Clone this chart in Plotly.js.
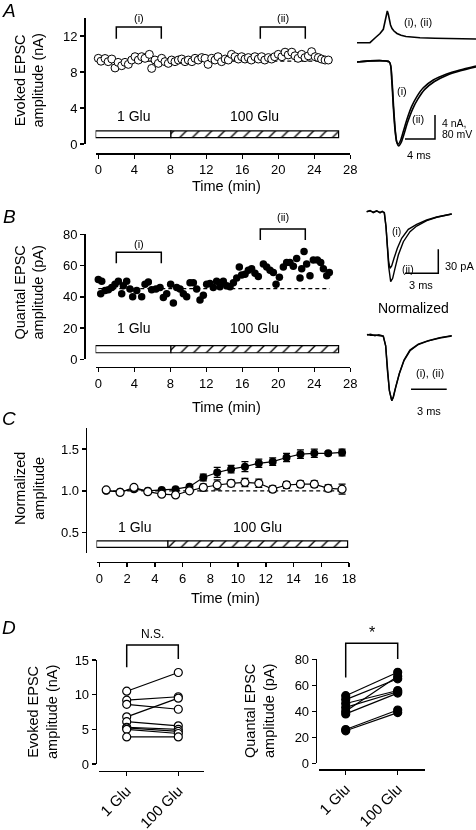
<!DOCTYPE html>
<html><head><meta charset="utf-8">
<script src="https://cdn.plot.ly/plotly-3.0.1.min.js"></script>
<style>html,body{margin:0;padding:0;background:#fff;}#chart{width:476px;height:830px;}#chart svg{will-change:transform;}</style>
</head><body><div id="chart"></div>
<script>
// ===================== DATA =====================
// Panel A: evoked EPSC amplitude (nA) vs time (min)
const evokedTime = [0.0,0.3,0.75,1.1,1.5,1.86,2.2,2.6,2.97,3.34,3.71,4.08,4.45,4.82,5.19,5.67,5.93,6.3,6.67,7.04,7.41,7.78,8.15,8.52,8.9,9.27,9.64,10.0,10.4,10.75,11.1,11.5,11.86,12.2,12.6,12.97,13.3,13.7,14.1,14.45,14.8,15.2,15.56,15.93,16.3,16.67,17.0,17.4,17.78,18.15,18.5,18.9,19.26,19.6,20.0,20.4,20.75,21.1,21.5,21.86,22.2,22.6,22.97,23.34,23.7,24.1,24.45,24.8,25.2,25.56];
const evokedAmp = [9.52,9.2,9.5,9.15,9.44,8.45,9.07,8.7,9.07,8.85,9.33,9.7,9.33,9.7,9.52,9.96,8.4,9.33,8.96,9.52,9.15,8.96,9.33,9.15,9.33,9.44,9.15,9.33,9.15,9.52,9.33,9.6,9.52,8.85,9.52,9.33,9.7,9.15,9.44,9.33,9.96,9.7,9.44,9.7,9.44,9.6,9.33,9.7,9.44,9.7,9.33,9.6,9.44,9.7,9.96,9.7,10.2,9.9,10.2,9.8,9.52,9.96,9.6,9.8,10.26,9.7,9.6,9.44,9.33,9.33];
const evokedBaseline = [9.2, 9.2];
const evokedBaselineSpan = [0, 25.7];

// Panel B: quantal EPSC amplitude (pA) vs time (min)
const quantalTime = [0.0,0.38,0.27,0.75,1.12,1.49,1.86,2.23,2.6,2.78,3.15,3.52,3.82,4.27,4.82,5.19,5.56,5.93,6.41,6.86,7.23,7.6,8.04,8.34,8.71,9.08,9.45,9.82,10.19,10.56,10.93,11.3,11.67,12.04,12.41,12.78,13.15,13.52,13.89,14.27,14.64,15.01,15.38,15.67,15.93,16.3,16.67,17.04,17.41,17.78,18.34,18.71,19.08,19.45,19.75,20.12,20.56,20.93,21.3,21.67,22.04,22.41,22.6,22.86,23.15,23.52,23.89,24.34,24.71,25.01,25.38,25.67];
const quantalAmp = [51,50,42,44,44.5,46,48,50,42,47,50,45,40,44,40,48,49.5,44.5,45,46,39.5,42,48,36,46,45,42,40,49,49,45,38,41,48,48.5,46,50,46.5,50,47,46.5,49,52,59,54,54.5,57,58,55,53,61,59,57,55.5,48,52.5,59,62,62,59.5,64.5,52,58,69,61,53.5,63.5,63.5,62,58,53.5,55.5];
const quantalBaseline = [45.2, 45.2];
const quantalBaselineSpan = [0, 25.7];

// Panel C: normalized amplitude, mean ± s.e.m.
const normTime = [0.5,1.5,2.5,3.5,4.5,5.5,6.5,7.5,8.5,9.5,10.5,11.5,12.5,13.5,14.5,15.5,16.5,17.5];
const normQuantal = [1.0,0.99,1.02,1.0,1.01,1.02,1.05,1.16,1.22,1.26,1.29,1.33,1.35,1.40,1.44,1.45,1.45,1.46];
const normQuantalErr = [0.01,0.01,0.01,0.01,0.015,0.015,0.02,0.04,0.06,0.045,0.06,0.05,0.045,0.05,0.05,0.05,0.02,0.04];
const normEvoked = [1.01,0.98,1.04,0.99,0.96,0.95,1.0,1.04,1.07,1.09,1.10,1.09,1.02,1.07,1.08,1.08,1.03,1.02];
const normEvokedErr = [0.01,0.01,0.01,0.01,0.01,0.015,0.02,0.04,0.06,0.04,0.05,0.05,0.04,0.04,0.04,0.04,0.04,0.06];
const normBaseline = [1.0, 1.0];
const normBaselineSpan = [0.5, 17.5];

// Panel D: paired cells
const pairCategories = ['1 Glu', '100 Glu'];
const evokedPre  = [10.5, 9.2, 8.6, 6.8, 6.1, 5.3, 5.2, 5.0, 3.9];
const evokedPost = [13.2, 9.7, 7.9, 9.5, 5.5, 5.0, 4.7, 4.4, 3.9];
const quantalPre  = [52, 49, 46, 43, 40, 38, 26, 25];
const quantalPost = [70, 65, 56, 55, 67, 54, 41, 39];

// Drug application periods (min): start, switch to 100 Glu, end
const periodAB = [-0.3, 8.07, 26.7];
const periodC  = [-0.2, 4.95, 17.9];
const periodLabels = ['1 Glu', '100 Glu'];

// Sampling windows (min) for example traces
const windowI  = [2, 7];
const windowII = [18, 23];

// Example traces, panel A: presynaptic AP (mV) and EPSCs (nA) vs time (ms)
const apTime = [0,1.73,2.4,3.07,3.51,3.73,3.91,4.04,4.17,4.31,4.47,4.67,4.93,5.33,5.87,6.53,7.33,8.4,10.4,13.07,15.87];
const apVm   = [-70,-70,-54.3,-39.3,-25.3,-1,25.7,35.7,25.7,5.7,-11,-22.7,-31,-39.3,-45.3,-49.3,-52,-53.7,-55.3,-56.7,-57.7];
const epscTimeI = [0,4.31,4.63,4.84,5.07,5.29,5.51,5.83,6.17,6.63,7.29,7.96,8.84,10.17,11.96,13.73,15.87];
const epscI     = [0,0,-3.0,-7.45,-11.33,-13.3,-13.67,-13.0,-11.6,-9.67,-7.4,-5.8,-4.3,-3.0,-2.0,-1.33,-0.67];
const epscTimeII = [0,4.31,4.66,4.88,5.11,5.33,5.56,5.89,6.27,6.73,7.43,8.11,9.0,10.33,12.07,13.8,15.87];
const epscII     = [0,0,-3.0,-7.5,-11.5,-13.5,-14.0,-13.4,-12.0,-10.1,-7.8,-6.2,-4.6,-3.25,-2.15,-1.45,-0.8];

// Example traces, panel B: quantal EPSCs (pA) vs time (ms)
const qTimeI  = [0,0.3,0.59,0.9,1.2,1.4,1.59,1.74,1.86,1.98,2.10,2.25,2.46,2.76,3.15,3.75,4.5,5.41,6.31,7.0,7.66];
const qAmpI   = [0,1.0,-0.5,1.2,-1.5,0.3,-1.0,-18.75,-41.6,-62.5,-70.75,-67.9,-58.25,-45.75,-33.25,-22,-15.75,-10.4,-6.6,-4.5,-2.9];
const qTimeII = [0,0.3,0.59,0.9,1.2,1.4,1.59,1.74,1.86,1.98,2.16,2.34,2.55,2.85,3.3,3.9,4.5,5.41,6.31,7.0,7.66];
const qAmpII  = [0,1.5,-1.25,0.8,-0.75,0.5,-2.0,-18.75,-43.75,-68.75,-87.5,-83.25,-70.75,-54.1,-37.5,-25,-17.9,-11.25,-7.0,-4.8,-2.9];
// Normalized quantal EPSCs
const nTime  = [0,0.3,0.67,1.0,1.37,1.57,1.71,1.88,2.08,2.21,2.41,2.72,3.11,3.61,4.31,5.15,6.13,7.12];
const nAmpI  = [0,0.01,-0.01,0.005,-0.015,-0.16,-0.53,-0.84,-1.0,-0.94,-0.79,-0.58,-0.38,-0.23,-0.14,-0.087,-0.04,-0.01];
const nAmpII = [0.01,-0.005,0,-0.01,-0.02,-0.17,-0.54,-0.85,-1.0,-0.95,-0.8,-0.59,-0.39,-0.24,-0.145,-0.09,-0.045,-0.015];

// Scale bars
const scaleA_ms = [6.4, 10.4];   const scaleA_nA = [-12.83, -8.83];
const scaleB_ms = [3.45, 6.45];  const scaleB_pA = [-77, -47];
const scaleN_ms = [3.70, 6.70];  const scaleN_y  = [-0.826, -0.826];

// ===================== LAYOUT HELPERS =====================
const W = 476, H = 830;
const FONT = 'Liberation Sans, Arial, Helvetica, sans-serif';
const px = v => v / W;
const py = v => 1 - v / H;

function visAxis(extra) {
  return Object.assign({
    showline: true, linecolor: '#000', linewidth: 1.5,
    ticks: 'outside', ticklen: 4, tickwidth: 1.5, tickcolor: '#000',
    showgrid: false, zeroline: false, anchor: 'free', autorange: false,
    tickfont: {family: FONT, size: 13, color: '#000'}, fixedrange: true
  }, extra);
}
function hidAxis(extra) {
  return Object.assign({visible: false, showgrid: false, zeroline: false,
    anchor: 'free', position: 0, autorange: false, fixedrange: true}, extra);
}
// hidden y axis sharing the scale of a visible one but reaching higher (for brackets)
function extendAxis(bottomPx, topPx, range, newTopPx) {
  const perPx = (range[1] - range[0]) / (bottomPx - topPx);
  return hidAxis({domain: [py(bottomPx), py(newTopPx)],
    range: [range[0], range[0] + (bottomPx - newTopPx) * perPx]});
}

const rangeA = [0, 14], rangeB = [0, 80], rangeC = [0.25, 1.75], rangeD1 = [0, 15], rangeD2 = [0, 80];

const layout = {
  width: W, height: H, margin: {l: 0, r: 0, t: 0, b: 0},
  paper_bgcolor: '#fff', plot_bgcolor: 'rgba(0,0,0,0)',
  showlegend: false, barmode: 'overlay', hovermode: false,
  font: {family: FONT, color: '#000'},
  // Panel A
  xaxis: visAxis({domain: [px(95.6), px(350.3)], range: [-0.3, 28], tickvals: [0,4,8,12,16,20,24,28], position: py(153)}),
  yaxis: visAxis({domain: [py(144), py(18)], range: rangeA, tickvals: [0,4,8,12], position: px(84)}),
  // Panel B
  xaxis2: visAxis({domain: [px(95.6), px(350.3)], range: [-0.3, 28], tickvals: [0,4,8,12,16,20,24,28], position: py(366.7)}),
  yaxis2: visAxis({domain: [py(359.3), py(234.3)], range: rangeB, tickvals: [0,20,40,60,80], position: px(84)}),
  yaxis3: extendAxis(359.3, 234.3, rangeB, 195),
  // Panel C
  xaxis3: visAxis({domain: [px(96.5), px(349)], range: [-0.2, 18], tickvals: [0,2,4,6,8,10,12,14,16,18], position: py(561.7)}),
  yaxis4: visAxis({domain: [py(553.3), py(428.3)], range: rangeC, tickvals: [0.5,1,1.5], ticktext: ['0.5','1.0','1.5'], position: px(85.7)}),
  // Panel D left
  xaxis4: visAxis({type: 'category', categoryorder: 'array', categoryarray: pairCategories, domain: [px(99), px(204.3)], range: [-0.537, 1.504], position: py(770.7), tickangle: -45, tickfont: {family: FONT, size: 15, color: '#000'}}),
  yaxis5: visAxis({domain: [py(764), py(660)], range: rangeD1, tickvals: [0,5,10,15], position: px(95.7)}),
  yaxis6: extendAxis(764, 660, rangeD1, 615),
  // Panel D right
  xaxis5: visAxis({type: 'category', categoryorder: 'array', categoryarray: pairCategories, domain: [px(319.3), px(425)], range: [-0.508, 1.525], position: py(769), tickangle: -45, tickfont: {family: FONT, size: 15, color: '#000'}}),
  yaxis7: visAxis({domain: [py(763.3), py(659.3)], range: rangeD2, tickvals: [0,20,40,60,80], position: px(315.7)}),
  yaxis8: extendAxis(763.3, 659.3, rangeD2, 615),
  // Example traces A
  xaxis6: hidAxis({domain: [px(355), 1], range: [-0.267, 15.867]}),
  yaxis9: hidAxis({domain: [py(160), py(5)], range: [-16.333, 9.5]}),
  yaxis10: hidAxis({overlaying: 'y9', range: [-461.0, 55.67]}),
  // Example traces B
  xaxis7: hidAxis({domain: [px(362), 1], range: [-0.4234, 9.847]}),
  yaxis11: hidAxis({domain: [py(295), py(195)], range: [-104.125, 20.875]}),
  xaxis8: hidAxis({domain: [px(362), 1], range: [-0.42, 9.16]}),
  yaxis12: hidAxis({domain: [py(420), py(300)], range: [-1.2938, 0.5327]}),
  annotations: []
};

// ===================== TRACES =====================
const traces = [];
const black = '#000';

function periodBars(xa, ya, period, yCenter, height) {
  traces.push({type: 'bar', orientation: 'h', xaxis: xa, yaxis: ya,
    y: [yCenter], x: [period[1] - period[0]], base: [period[0]], width: [height],
    marker: {color: '#fff', line: {color: black, width: 1.2}}});
  traces.push({type: 'bar', orientation: 'h', xaxis: xa, yaxis: ya,
    y: [yCenter], x: [period[2] - period[1]], base: [period[1]], width: [height],
    marker: {color: '#fff', line: {color: black, width: 1.2},
      pattern: {shape: '/', fgcolor: black, bgcolor: '#fff', size: 9, solidity: 0.15, fillmode: 'replace'}}});
}
function line(xa, ya, x, y, extra) {
  traces.push(Object.assign({type: 'scatter', mode: 'lines', xaxis: xa, yaxis: ya, x, y,
    line: {color: black, width: 1.5}, cliponaxis: false}, extra || {}));
}
function bracket(xa, ya, span, legLow, top, legLowRight) {
  line(xa, ya, [span[0], span[0], span[1], span[1]], [legLow, top, top, legLowRight === undefined ? legLow : legLowRight]);
}

// Panel A
periodBars('x', 'y', periodAB, 1.075, 0.75);
line('x', 'y', evokedBaselineSpan, evokedBaseline, {line: {color: black, width: 1.3, dash: '4px,3px'}});
traces.push({type: 'scatter', mode: 'markers', xaxis: 'x', yaxis: 'y', x: evokedTime, y: evokedAmp, cliponaxis: false,
  marker: {symbol: 'circle', size: 8, color: '#fff', line: {color: black, width: 1}}});
bracket('x', 'y', windowI, 11.7, 13);
bracket('x', 'y', windowII, 11.7, 13);

// Panel B
periodBars('x2', 'y2', periodAB, 6.45, 4.5);
line('x2', 'y2', quantalBaselineSpan, quantalBaseline, {line: {color: black, width: 1.3, dash: '4px,3px'}});
traces.push({type: 'scatter', mode: 'markers', xaxis: 'x2', yaxis: 'y2', x: quantalTime, y: quantalAmp, cliponaxis: false,
  marker: {symbol: 'circle', size: 7.5, color: black}});
bracket('x2', 'y3', windowI, 61.4, 68.5);
bracket('x2', 'y3', windowII, 76.4, 83.4);

// Panel C
periodBars('x3', 'y4', periodC, 0.36, 0.08);
line('x3', 'y4', normBaselineSpan, normBaseline, {line: {color: black, width: 1.3, dash: '4px,3px'}});
traces.push({type: 'scatter', mode: 'lines+markers', xaxis: 'x3', yaxis: 'y4', x: normTime, y: normQuantal, cliponaxis: false,
  line: {color: black, width: 1.2}, marker: {symbol: 'circle', size: 8, color: black},
  error_y: {type: 'data', array: normQuantalErr, color: black, thickness: 1.2, width: 3.5}});
traces.push({type: 'scatter', mode: 'lines+markers', xaxis: 'x3', yaxis: 'y4', x: normTime, y: normEvoked, cliponaxis: false,
  line: {color: black, width: 1.2}, marker: {symbol: 'circle', size: 8, color: '#fff', line: {color: black, width: 1.2}},
  error_y: {type: 'data', array: normEvokedErr, color: black, thickness: 1.2, width: 3.5}});

// Panel D
function pairs(xa, ya, pre, post, filled) {
  const lx = [], ly = [];
  pre.forEach((v, i) => { lx.push(pairCategories[0], pairCategories[1], null); ly.push(v, post[i], null); });
  traces.push({type: 'scatter', mode: 'lines', xaxis: xa, yaxis: ya, x: lx, y: ly, connectgaps: false,
    line: {color: black, width: 1.2}, cliponaxis: false});
  traces.push({type: 'scatter', mode: 'markers', xaxis: xa, yaxis: ya, cliponaxis: false,
    x: pre.map(() => pairCategories[0]).concat(post.map(() => pairCategories[1])),
    y: pre.concat(post),
    marker: {symbol: 'circle', size: 8, color: filled ? black : '#fff', line: {color: black, width: 1.2}}});
}
pairs('x4', 'y5', evokedPre, evokedPost, false);
pairs('x5', 'y7', quantalPre, quantalPost, true);
line('x4', 'y6', [pairCategories[0], pairCategories[0], pairCategories[1], pairCategories[1]], [13.95, 17.17, 17.17, 15.15]);
line('x5', 'y8', [pairCategories[0], pairCategories[0], pairCategories[1], pairCategories[1]], [66, 92.3, 92.3, 80.3]);

// Example traces A
line('x6', 'y10', apTime, apVm, {line: {color: black, width: 1.6}});
line('x6', 'y9', epscTimeII, epscII, {line: {color: black, width: 1.6, shape: 'spline', smoothing: 0.6}});
line('x6', 'y9', epscTimeI, epscI, {line: {color: black, width: 1.6, shape: 'spline', smoothing: 0.6}});
line('x6', 'y9', [scaleA_ms[0], scaleA_ms[1], scaleA_ms[1]], [scaleA_nA[0], scaleA_nA[0], scaleA_nA[1]], {line: {color: black, width: 1.5}});

// Example traces B
line('x7', 'y11', qTimeII, qAmpII, {line: {color: black, width: 1.4}});
line('x7', 'y11', qTimeI, qAmpI, {line: {color: black, width: 1.4}});
line('x7', 'y11', [scaleB_ms[0], scaleB_ms[1], scaleB_ms[1]], [scaleB_pA[0], scaleB_pA[0], scaleB_pA[1]], {line: {color: black, width: 1.5}});
line('x8', 'y12', nTime, nAmpII, {line: {color: black, width: 1.4}});
line('x8', 'y12', nTime, nAmpI, {line: {color: black, width: 1.4}});
line('x8', 'y12', scaleN_ms, scaleN_y, {line: {color: black, width: 1.5}});

// ===================== TEXT =====================
function ann(text, x, y, xref, yref, size, extra) {
  layout.annotations.push(Object.assign({text, x, y, xref, yref, showarrow: false,
    xanchor: 'center', yanchor: 'middle', font: {family: FONT, size: size || 13, color: '#000'}}, extra || {}));
}
// panel letters
ann('<i>A</i>', px(9), py(10), 'paper', 'paper', 19);
ann('<i>B</i>', px(9), py(217), 'paper', 'paper', 19);
ann('<i>C</i>', px(9), py(418), 'paper', 'paper', 19);
ann('<i>D</i>', px(9), py(627), 'paper', 'paper', 19);
// axis titles
ann('Evoked EPSC<br>amplitude (nA)', px(28.5), py(81), 'paper', 'paper', 14.5, {textangle: -90});
ann('Quantal EPSC<br>amplitude (pA)', px(29), py(292.5), 'paper', 'paper', 14.5, {textangle: -90});
ann('Normalized<br>amplitude', px(29), py(489), 'paper', 'paper', 14.5, {textangle: -90});
ann('Evoked EPSC<br>amplitude (nA)', px(42), py(712), 'paper', 'paper', 14.5, {textangle: -90});
ann('Quantal EPSC<br>amplitude (pA)', px(259), py(711), 'paper', 'paper', 14.5, {textangle: -90});
ann('Time (min)', px(226), py(186), 'paper', 'paper', 14.5);
ann('Time (min)', px(226), py(407), 'paper', 'paper', 14.5);
ann('Time (min)', px(225), py(598), 'paper', 'paper', 14.5);
// application labels
ann(periodLabels[0], 3.9, 3.09, 'x', 'y', 14);
ann(periodLabels[1], 17.4, 3.09, 'x', 'y', 14);
ann(periodLabels[0], 3.9, 19.8, 'x2', 'y2', 14);
ann(periodLabels[1], 17.3, 19.8, 'x2', 'y2', 14);
ann(periodLabels[0], 2.52, 0.568, 'x3', 'y4', 14);
ann(periodLabels[1], 11.44, 0.568, 'x3', 'y4', 14);
// window labels
ann('(i)', 4.5, 14, 'x', 'y', 11);
ann('(ii)', 20.5, 14, 'x', 'y', 11);
ann('(i)', 4.5, 73.8, 'x2', 'y3', 11);
ann('(ii)', 20.5, 91.1, 'x2', 'y3', 11);
// significance
ann('N.S.', 0.5, 18.72, 'x4', 'y6', 12);
ann('*', 0.5, 100.5, 'x5', 'y8', 16);
// example-trace labels
ann('(i), (ii)', 8.13, 6.67, 'x6', 'y9', 11);
ann('(i)', 6.0, -4.83, 'x6', 'y9', 11);
ann('(ii)', 8.13, -9.5, 'x6', 'y9', 11);
ann('4 nA,', 11.1, -10.2, 'x6', 'y9', 10.5, {xanchor: 'left'});
ann('80 mV', 11.1, -11.95, 'x6', 'y9', 10.5, {xanchor: 'left'});
ann('4 ms', 8.27, -15.5, 'x6', 'y9', 11);
ann('(i)', 2.7, -24, 'x7', 'y11', 10.5);
ann('(ii)', 3.75, -72, 'x7', 'y11', 10.5);
ann('30 pA', 6.87, -68, 'x7', 'y11', 11, {xanchor: 'left'});
ann('3 ms', 4.9, -91.6, 'x7', 'y11', 11);
ann('Normalized', 3.89, 0.41, 'x8', 'y12', 14);
ann('(i), (ii)', 5.29, -0.574, 'x8', 'y12', 11);
ann('3 ms', 5.2, -1.152, 'x8', 'y12', 11);

Plotly.newPlot('chart', traces, layout, {staticPlot: true, displayModeBar: false});
</script></body></html>
